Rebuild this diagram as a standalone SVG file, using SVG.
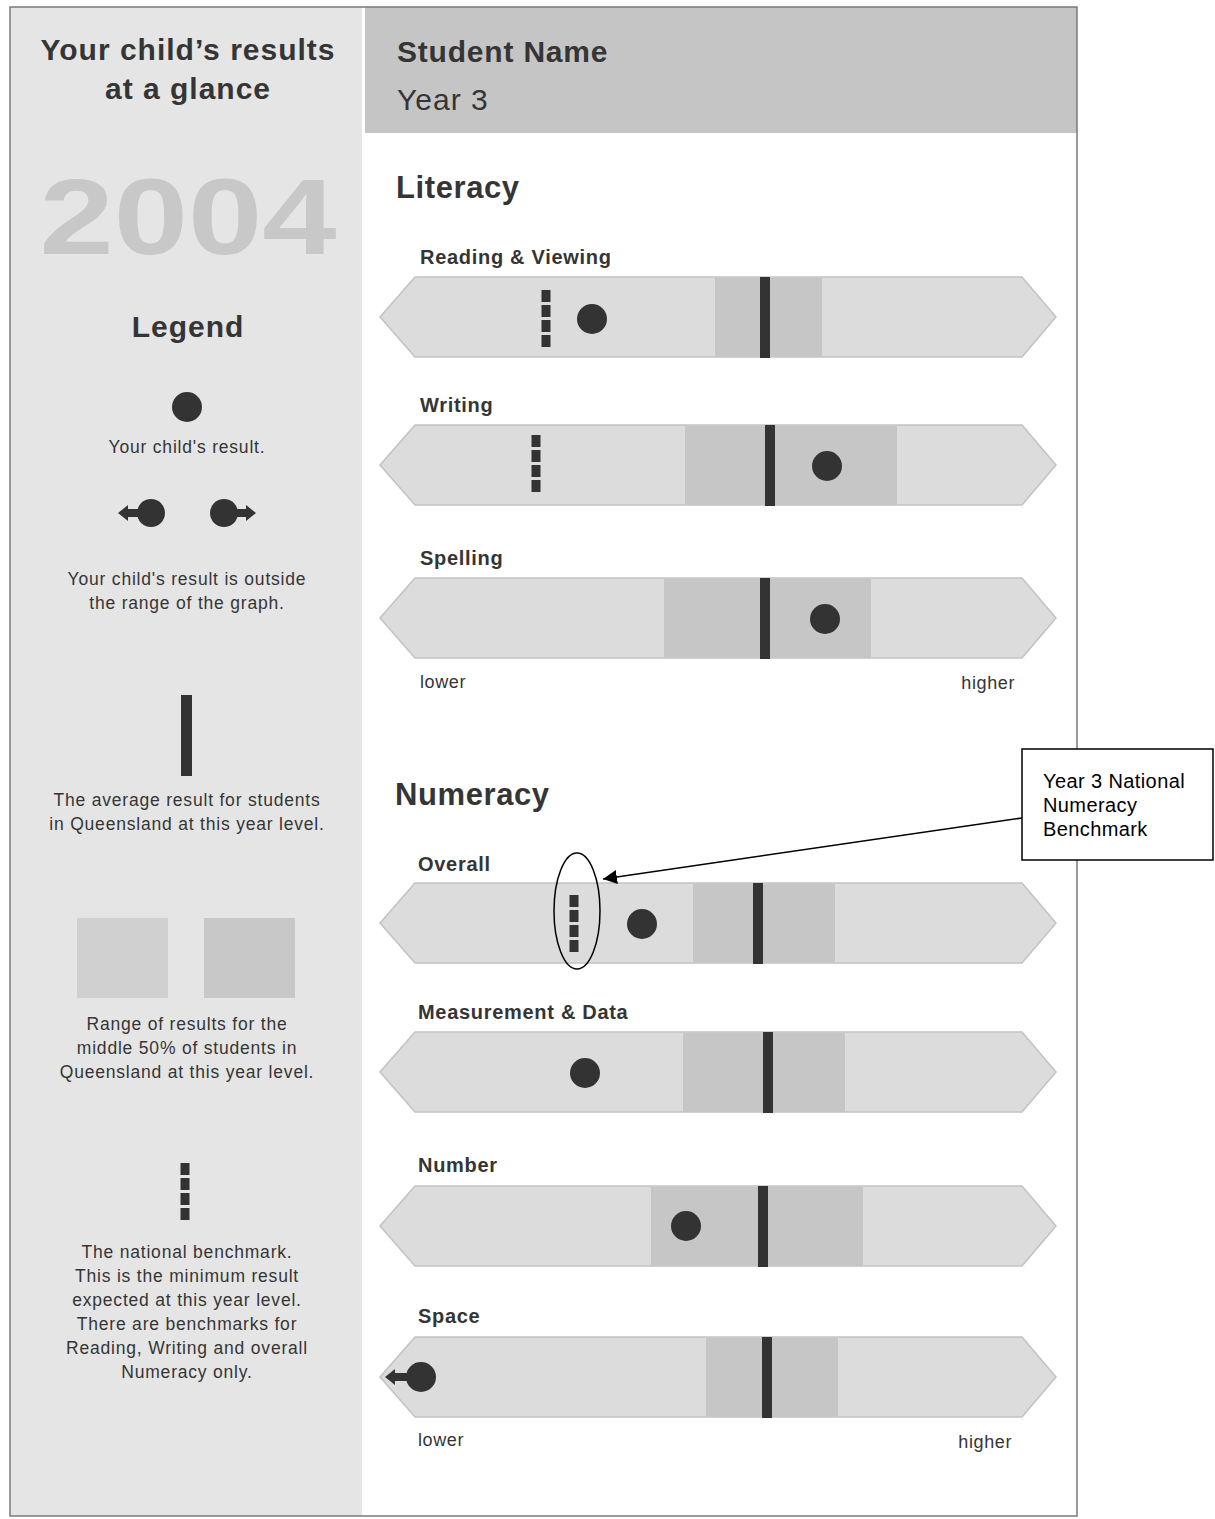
<svg xmlns="http://www.w3.org/2000/svg" width="1215" height="1519" viewBox="0 0 1215 1519">
<style>
  text { font-family: "Liberation Sans", Arial, sans-serif; fill: #353535; }
  .h1 { font-size: 30px; font-weight: bold; letter-spacing: 1px; }
  .hn { font-size: 30px; font-weight: bold; letter-spacing: 0.8px; }
  .h2 { font-size: 31px; font-weight: bold; letter-spacing: 0.6px; }
  .lbl { font-size: 20px; font-weight: bold; letter-spacing: 0.7px; }
  .leg { font-size: 17.5px; text-anchor: middle; letter-spacing: 0.8px; }
  .axis { font-size: 18px; letter-spacing: 0.6px; }
  .body { fill: #dcdcdc; stroke: #c2c2c2; stroke-width: 1.5; }
  .rng { fill: #c6c6c6; }
  .avg { fill: #333333; }
  .dot { fill: #333333; }
  .bm { stroke: #333333; stroke-width: 9; stroke-dasharray: 12 3; fill: none; }
  .call { font-size: 20px; fill: #000; letter-spacing: 0.4px; }
</style>
<defs>
  <marker id="ah" viewBox="0 0 10 10" refX="10" refY="5" markerWidth="14" markerHeight="14" markerUnits="userSpaceOnUse" orient="auto">
    <path d="M0,0 L10,5 L0,10 z" fill="#000"/>
  </marker>
  <path id="barshape" d="M0,40 L35,0 L642,0 L676,40 L642,80 L35,80 Z"/>
</defs>
<rect x="0" y="0" width="1215" height="1519" fill="#ffffff"/>
<!-- frame -->
<rect x="10" y="7" width="352" height="1509" fill="#e5e5e5"/>
<rect x="365" y="7" width="712" height="126" fill="#c5c5c5"/>
<path d="M10,7 L1077,7 L1077,1516 L10,1516 Z" fill="none" stroke="#7a7a7a" stroke-width="1.5"/>
<!-- left panel -->
<g id="title">
  <text class="h1" x="188" y="60" text-anchor="middle">Your child’s results</text>
  <text class="h1" x="188" y="99" text-anchor="middle">at a glance</text>
</g>
<g id="year">
  <text x="188" y="254" text-anchor="middle" font-family="'DejaVu Sans', sans-serif" font-weight="bold" font-size="108" style="fill:#c8c8c8" textLength="297" lengthAdjust="spacingAndGlyphs">2004</text>
</g>
<g id="legend-title"><text class="h1" x="188" y="337" text-anchor="middle">Legend</text></g>
<g id="legend-dot">
  <circle class="dot" cx="187" cy="407" r="15"/>
  <text class="leg" x="187" y="453">Your child's result.</text>
</g>
<g id="legend-outside">
  <circle class="dot" cx="151" cy="513" r="14"/>
  <path class="dot" d="M118,513 L128,505 L128,509 L140,509 L140,517 L128,517 L128,521 Z"/>
  <circle class="dot" cx="224" cy="513" r="14"/>
  <path class="dot" d="M256,513 L246,505 L246,509 L234,509 L234,517 L246,517 L246,521 Z"/>
  <text class="leg" x="187" y="585">Your child's result is outside</text>
  <text class="leg" x="187" y="609">the range of the graph.</text>
</g>
<g id="legend-average">
  <rect class="avg" x="181" y="695" width="11" height="81"/>
  <text class="leg" x="187" y="806">The average result for students</text>
  <text class="leg" x="187" y="830">in Queensland at this year level.</text>
</g>
<g id="legend-range">
  <rect x="77" y="918" width="91" height="80" fill="#d0d0d0"/>
  <rect x="204" y="918" width="91" height="80" fill="#c8c8c8"/>
  <text class="leg" x="187" y="1030">Range of results for the</text>
  <text class="leg" x="187" y="1054">middle 50% of students in</text>
  <text class="leg" x="187" y="1078">Queensland at this year level.</text>
</g>
<g id="legend-benchmark">
  <line class="bm" x1="185" y1="1163" x2="185" y2="1220"/>
  <text class="leg" x="187" y="1258">The national benchmark.</text>
  <text class="leg" x="187" y="1282">This is the minimum result</text>
  <text class="leg" x="187" y="1306">expected at this year level.</text>
  <text class="leg" x="187" y="1330">There are benchmarks for</text>
  <text class="leg" x="187" y="1354">Reading, Writing and overall</text>
  <text class="leg" x="187" y="1378">Numeracy only.</text>
</g>
<!-- header -->
<g id="header">
  <text class="hn" x="397" y="62">Student Name</text>
  <text x="397" y="110" font-size="30px" letter-spacing="1px">Year 3</text>
</g>
<g id="literacy-title"><text class="h2" x="396" y="198">Literacy</text></g>
<g id="reading">
  <text class="lbl" x="420" y="264">Reading &amp; Viewing</text>
  <use href="#barshape" class="body" x="380" y="277"/>
  <rect class="rng" x="715" y="278" width="107" height="79"/>
  <rect class="avg" x="760" y="277" width="10" height="81"/>
  <line class="bm" x1="546" y1="290" x2="546" y2="347"/>
  <circle class="dot" cx="592" cy="319" r="15"/>
</g>
<g id="writing">
  <text class="lbl" x="420" y="412">Writing</text>
  <use href="#barshape" class="body" x="380" y="425"/>
  <rect class="rng" x="685" y="426" width="212" height="79"/>
  <rect class="avg" x="765" y="425" width="10" height="81"/>
  <line class="bm" x1="536" y1="435" x2="536" y2="492"/>
  <circle class="dot" cx="827" cy="466" r="15"/>
</g>
<g id="spelling">
  <text class="lbl" x="420" y="565">Spelling</text>
  <use href="#barshape" class="body" x="380" y="578"/>
  <rect class="rng" x="664" y="579" width="207" height="79"/>
  <rect class="avg" x="760" y="578" width="10" height="81"/>
  <circle class="dot" cx="825" cy="619" r="15"/>
  <text class="axis" x="420" y="688">lower</text>
  <text class="axis" x="1015" y="689" text-anchor="end">higher</text>
</g>
<g id="numeracy-title"><text class="h2" x="395" y="805">Numeracy</text></g>
<g id="overall">
  <text class="lbl" x="418" y="871">Overall</text>
  <use href="#barshape" class="body" x="380" y="883"/>
  <rect class="rng" x="693" y="884" width="142" height="79"/>
  <rect class="avg" x="753" y="883" width="10" height="81"/>
  <line class="bm" x1="574" y1="895" x2="574" y2="952"/>
  <circle class="dot" cx="642" cy="924" r="15"/>
</g>
<g id="measurement">
  <text class="lbl" x="418" y="1019">Measurement &amp; Data</text>
  <use href="#barshape" class="body" x="380" y="1032"/>
  <rect class="rng" x="683" y="1033" width="162" height="79"/>
  <rect class="avg" x="763" y="1032" width="10" height="81"/>
  <circle class="dot" cx="585" cy="1073" r="15"/>
</g>
<g id="number">
  <text class="lbl" x="418" y="1172">Number</text>
  <use href="#barshape" class="body" x="380" y="1186"/>
  <rect class="rng" x="651" y="1187" width="212" height="79"/>
  <rect class="avg" x="758" y="1186" width="10" height="81"/>
  <circle class="dot" cx="686" cy="1226" r="15"/>
</g>
<g id="space">
  <text class="lbl" x="418" y="1323">Space</text>
  <use href="#barshape" class="body" x="380" y="1337"/>
  <rect class="rng" x="706" y="1338" width="132" height="79"/>
  <rect class="avg" x="762" y="1337" width="10" height="81"/>
  <circle class="dot" cx="421" cy="1377" r="15"/>
  <path class="dot" d="M385,1377 L395,1369 L395,1373 L408,1373 L408,1381 L395,1381 L395,1385 Z"/>
  <text class="axis" x="418" y="1446">lower</text>
  <text class="axis" x="1012" y="1448" text-anchor="end">higher</text>
</g>
<!-- callout -->
<g id="callout">
  <rect x="1022" y="749" width="191" height="111" fill="#ffffff" stroke="#000" stroke-width="1.5"/>
  <text class="call" x="1043" y="788">Year 3 National</text>
  <text class="call" x="1043" y="812">Numeracy</text>
  <text class="call" x="1043" y="836">Benchmark</text>
</g>
<g id="connectors">
  <ellipse cx="577" cy="911" rx="23" ry="58" fill="none" stroke="#000" stroke-width="1.5"/>
  <line x1="1022" y1="818" x2="603" y2="879" stroke="#000" stroke-width="1.5" marker-end="url(#ah)"/>
</g>
</svg>
